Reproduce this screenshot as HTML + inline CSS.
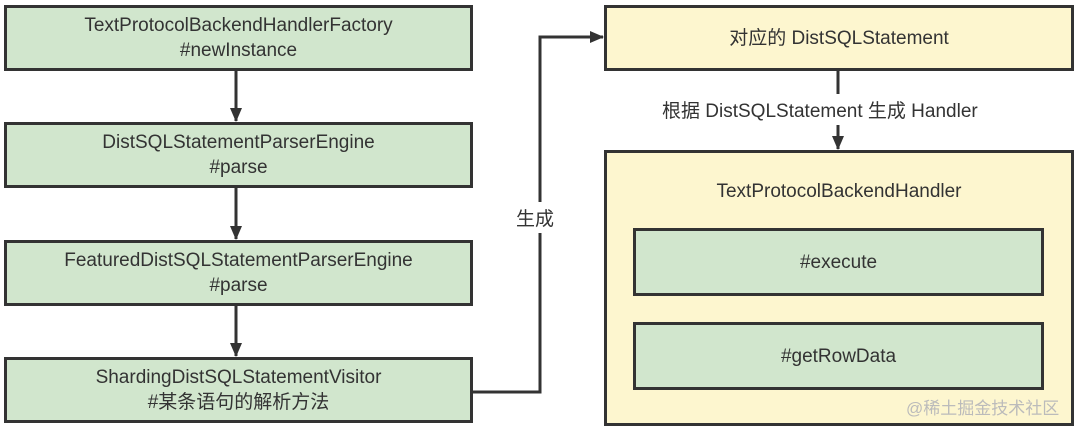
<!DOCTYPE html>
<html><head><meta charset="utf-8"><style>
body{margin:0;width:1080px;height:429px;background:#fff;position:relative;overflow:hidden;font-family:"Liberation Sans","Noto Sans CJK SC",sans-serif;color:#333;}
.b{position:absolute;box-sizing:border-box;border:3px solid #333;display:flex;align-items:center;justify-content:center;text-align:center;font-size:19px;line-height:25px;}
.g{background:#d1e6cd;}
.y{background:#fdf6cf;}
.t{position:absolute;font-size:19px;white-space:nowrap;}
</style></head><body>
<svg width="1080" height="429" style="position:absolute;left:0;top:0">
<defs><marker id="a" markerWidth="14" markerHeight="14" refX="13" refY="7" orient="auto" markerUnits="userSpaceOnUse"><path d="M0,1 L14,7 L0,13 z" fill="#333"/></marker></defs>
<g stroke="#333" stroke-width="3" fill="none">
<line x1="236" y1="70" x2="236" y2="121" marker-end="url(#a)"/>
<line x1="236" y1="187" x2="236" y2="239" marker-end="url(#a)"/>
<line x1="236" y1="305" x2="236" y2="356" marker-end="url(#a)"/>
<polyline points="472,392 540,392 540,37 603,37" marker-end="url(#a)"/>
<line x1="838" y1="70" x2="838" y2="149" marker-end="url(#a)"/>
</g></svg>
<div class="b g" style="left:4px;top:5px;width:469px;height:66px">TextProtocolBackendHandlerFactory<br>#newInstance</div>
<div class="b g" style="left:4px;top:122px;width:469px;height:66px">DistSQLStatementParserEngine<br>#parse</div>
<div class="b g" style="left:4px;top:240px;width:469px;height:66px">FeaturedDistSQLStatementParserEngine<br>#parse</div>
<div class="b g" style="left:4px;top:357px;width:469px;height:66px">ShardingDistSQLStatementVisitor<br>#某条语句的解析方法</div>
<div class="b y" style="left:604px;top:5px;width:470px;height:66px">对应的 DistSQLStatement</div>
<div class="b y" style="left:604px;top:150px;width:470px;height:276px;align-items:flex-start;padding-top:26px">TextProtocolBackendHandler</div>
<div class="b g" style="left:633px;top:228px;width:411px;height:68px">#execute</div>
<div class="b g" style="left:633px;top:322px;width:411px;height:68px">#getRowData</div>
<div class="t" style="left:516px;top:202px;background:#fff;padding:2px 0">生成</div>
<div class="t" style="left:658px;top:94px;background:#fff;padding:2px 4px">根据 DistSQLStatement 生成 Handler</div>
<div class="t" style="left:906px;top:394px;font-size:17px;color:#bbb">@稀土掘金技术社区</div>
</body></html>
